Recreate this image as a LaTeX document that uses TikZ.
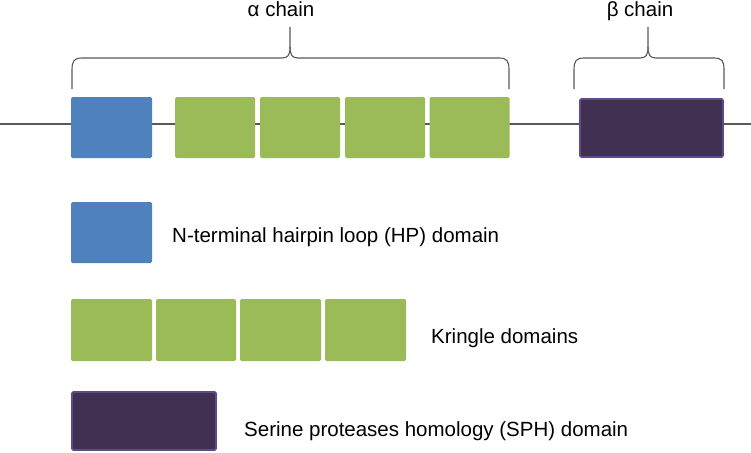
\documentclass[tikz,border=0pt]{standalone}
\usepackage{fontspec}
\setmainfont{Liberation Sans}
\definecolor{hpblue}{HTML}{4F81BD}
\definecolor{kgreen}{HTML}{9BBB59}
\definecolor{sphfill}{HTML}{403152}
\definecolor{sphdraw}{HTML}{5F4B8B}
\definecolor{linegray}{HTML}{595959}
\begin{document}
\begin{tikzpicture}[x=1pt,y=-1pt,
  box/.style={inner sep=0pt, outer sep=0pt, rounded corners=1.5pt},
  hpbox/.style={box, fill=hpblue, minimum width=81pt, minimum height=61pt},
  krbox/.style={box, fill=kgreen, minimum width=80pt, minimum height=61pt},
  sphbox/.style={box, fill=sphfill, draw=sphdraw, line width=1.8pt},
  lbl/.style={inner sep=0pt, font=\fontsize{20.5}{24}\selectfont, text=black},
  brace/.style={draw=linegray, line width=1.1pt},
  chain/.style={draw=linegray, line width=1.2pt}]
\useasboundingbox[fill=white] (0,0) rectangle (751,452);
% backbone
\coordinate (lineL) at (0,124);
\coordinate (lineR) at (751,124);
\draw[chain] (lineL) -- (lineR);
% top row
\node[hpbox] (hp1) at (111.5,127.5) {};
\node[krbox] (k1) at (215,127.5) {};
\node[krbox] (k2) at (300,127.5) {};
\node[krbox] (k3) at (385,127.5) {};
\node[krbox] (k4) at (469.5,127.5) {};
\node[sphbox, minimum width=143pt, minimum height=58pt] (sph1) at (651.5,128) {};
% braces
\draw[brace] (72,89) -- (72,70) .. controls (72,61) and (74,58) .. (82,58) -- (282,58)
  .. controls (288,58) and (290,55) .. (290,47) -- (290,27);
\draw[brace] (290,47) .. controls (290,55) and (292,58) .. (298,58) -- (499,58)
  .. controls (507,58) and (509,61) .. (509,70) -- (509,89);
\draw[brace] (574,89) -- (574,70) .. controls (574,61) and (576,58) .. (584,58) -- (640,58)
  .. controls (646,58) and (648,55) .. (648,47) -- (648,27);
\draw[brace] (648,47) .. controls (648,55) and (650,58) .. (656,58) -- (714,58)
  .. controls (722,58) and (724,61) .. (724,70) -- (724,89);
\node[lbl, anchor=base] (alpha) at (281,17) {α chain};
\node[lbl, anchor=base] (beta) at (640,17) {β chain};
% legend
\node[hpbox] (hp2) at (111.5,232.5) {};
\node[lbl, anchor=base west] (hptext) at (172,242) {N-terminal hairpin loop (HP) domain};
\node[krbox, minimum width=81pt, minimum height=62pt] (lk1) at (111.5,330) {};
\node[krbox, minimum width=80pt, minimum height=62pt] (lk2) at (196,330) {};
\node[krbox, minimum width=81pt, minimum height=62pt] (lk3) at (280.5,330) {};
\node[krbox, minimum width=81pt, minimum height=62pt] (lk4) at (365.5,330) {};
\node[lbl, anchor=base west] (krtext) at (431,343) {Kringle domains};
\node[sphbox, minimum width=144pt, minimum height=58pt] (sph2) at (144,421) {};
\node[lbl, anchor=base west] (sphtext) at (244,436) {Serine proteases homology (SPH) domain};
\end{tikzpicture}
\end{document}
